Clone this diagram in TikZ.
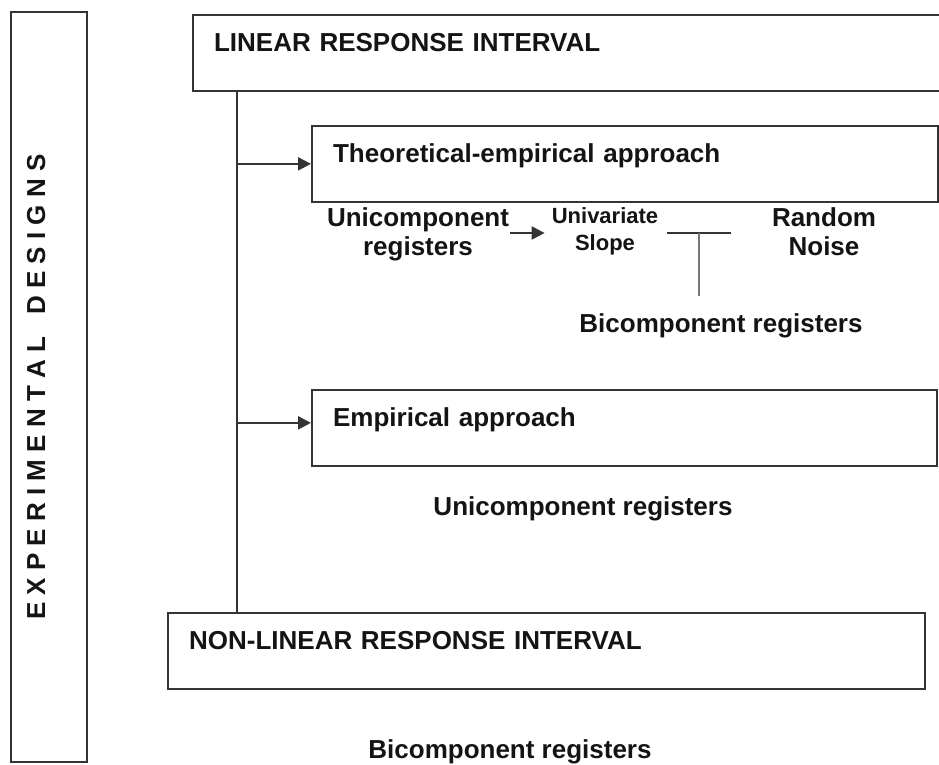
\documentclass[tikz,border=0pt]{standalone}
\usepackage{fontspec}
\setmainfont{Liberation Sans}
\usepackage{xcolor}
\definecolor{edLine}{RGB}{52,52,52}
\definecolor{edStem}{RGB}{118,118,118}
\usepackage{tikz}
\usetikzlibrary{arrows.meta,positioning}

\begin{document}
\begin{tikzpicture}[
    x=1pt, y=-1pt,
    every node/.style={font=\fontsize{26}{29}\selectfont\bfseries, text=black!92},
    frame/.style={draw=edLine, line width=2.2pt, anchor=north west, align=left,
      inner xsep=21pt, inner ysep=0pt, text height=36pt, text depth=39.5pt},
    reg/.style={align=center, inner sep=1pt, anchor=base},
    smallreg/.style={reg, font=\fontsize{22}{27}\selectfont\bfseries},
    link/.style={draw=edLine, line width=2.2pt},
    stem/.style={draw=edStem, line width=2.2pt},
    arrow/.style={link, -{Triangle[length=13pt, width=13pt]}}
  ]
    \path[use as bounding box, clip] (0,0) rectangle (939,764);

    % side label
    \node[draw=edLine, line width=2.2pt, rotate=90, minimum width=750pt,
      inner sep=0pt, text height=34pt, text depth=42pt] (designs) at (49,387)
      {E X P E R I M E N T A L\hspace{22pt}D E S I G N S};

    % stage boxes
    \node[frame, text width=760pt] (linear) at (192,14) {LINEAR RESPONSE INTERVAL};
    \node[frame, text width=584pt] (theory) at (311,125) {Theoretical-empirical approach};
    \node[frame, text width=583pt] (empirical) at (311,389) {Empirical approach};
    \node[frame, text width=715pt] (nonlinear) at (167,612) {NON-LINEAR RESPONSE INTERVAL};

    % registers (base = last line)
    \node[reg] (uniTheory) at (418,255) {Unicomponent\\registers};
    \node[smallreg] (slope) at (605,250) {Univariate\\Slope};
    \node[reg] (noise) at (824,255) {Random\\Noise};
    \node[reg] (biTheory) at (721,332) {Bicomponent registers};
    \node[reg] (uniEmp) at (583,515) {Unicomponent registers};
    \node[reg] (biNonlin) at (510,758) {Bicomponent registers};

    \coordinate (trunk) at (237,0);
    \coordinate (regrow) at (0,233);
    \coordinate (empIn) at ([yshift=5pt]empirical.west);
    \coordinate (barL) at (667,233);
    \coordinate (barR) at (731,233);
    \coordinate (barM) at (699,233);
    \coordinate (stemEnd) at (699,296);

    \draw[link] (trunk |- linear.south) -- (trunk |- nonlinear.north);
    \draw[arrow] (trunk |- theory.west) -- (theory.west);
    \draw[arrow] (trunk |- empIn) -- (empIn);
    \draw[arrow, shorten >=6pt] (uniTheory.east |- regrow) -- (slope.west |- regrow);
    \draw[link] (barL) -- (barR);
    \draw[stem] (barM) -- (stemEnd);
\end{tikzpicture}
\end{document}
